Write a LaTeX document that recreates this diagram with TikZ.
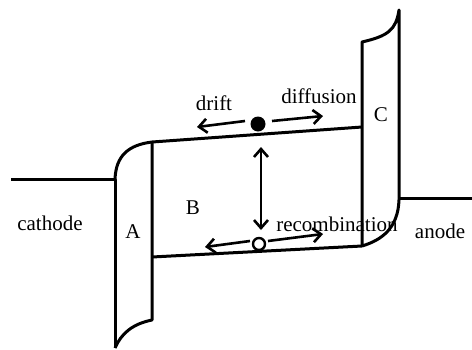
\documentclass[tikz,border=0pt]{standalone}
\usepackage{fontspec}
\setmainfont{Liberation Serif}
\usetikzlibrary{arrows.meta}
\begin{document}
\begin{tikzpicture}[x=1pt,y=-1pt,
  band/.style={line width=3pt,line join=round},
  tip/.tip={Straight Barb[length=8pt,width=14pt,line width=2.6pt]},
  move/.style={line width=2.6pt,-tip},
  lbl/.style={font=\fontsize{21}{24}\selectfont,inner sep=0pt}]
\useasboundingbox (0,0) rectangle (472,349);
% corners of the band diagram
\coordinate (cath) at (11,179);
\coordinate (aTL) at (115,179);
\coordinate (aBL) at (115,348);
\coordinate (aTR) at (152,142);
\coordinate (aBR) at (152,320);
\coordinate (bLow) at (152,257);
\coordinate (cTL) at (362,42);
\coordinate (cBL) at (362,246);
\coordinate (cTR) at (399,10);
\coordinate (cBR) at (399,200);
\coordinate (cMid) at (362,127);
\coordinate (anJ) at (399,198);
\coordinate (anod) at (472,198);
% left barrier A
\draw[band] (cath) -- (aTL) -- (aBL);
\draw[band] (aTL) .. controls (116,156) and (128,145) .. (aTR);
\draw[band] (aTR) -- (aBR) .. controls (132,324) and (121,334) .. (aBL);
% bands across B
\draw[band] (aTR) -- (cMid);
\draw[band] (bLow) -- (cBL);
% right barrier C
\draw[band] (cBL) -- (cTL) .. controls (388,36) and (396,30) .. (cTR) -- (cBR)
  .. controls (398,228) and (382,240) .. (cBL);
\draw[band] (anJ) -- (anod);
% carriers
\node[circle,fill=black,minimum size=15pt,inner sep=0pt] (el) at (258,124) {};
\node[circle,draw,line width=2.4pt,fill=white,minimum size=12pt,inner sep=0pt] (ho) at (259,244) {};
% carrier motion
\coordinate (elL0) at (245,121); \coordinate (elL1) at (197,127);
\coordinate (elR0) at (272,121); \coordinate (elR1) at (323,116);
\coordinate (hoL0) at (250,241); \coordinate (hoL1) at (205,247);
\coordinate (hoR0) at (268,241); \coordinate (hoR1) at (323,234);
\coordinate (vT) at (261,147); \coordinate (vB) at (261,230);
\draw[move] (elL0) -- (elL1);
\draw[move] (elR0) -- (elR1);
\draw[move] (hoL0) -- (hoL1);
\draw[move] (hoR0) -- (hoR1);
\draw[move,tip-tip] (vT) -- (vB);
% labels
\node[lbl] (tdrift) at (214,103) {drift};
\node[lbl] (tdiff) at (319,96) {diffusion};
\node[lbl] (tC) at (381,115) {C};
\node[lbl] (tB) at (193,208) {B};
\node[lbl] (tA) at (133,232) {A};
\node[lbl] (tcath) at (50,223) {cathode};
\node[lbl] (tan) at (440,231) {anode};
\node[lbl] (trec) at (337,224) {recombination};
\end{tikzpicture}
\end{document}
